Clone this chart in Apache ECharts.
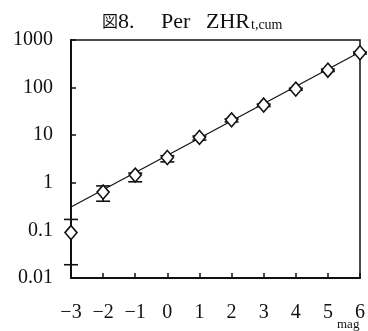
<!DOCTYPE html>
<html>
<head>
<meta charset="utf-8">
<script src="https://cdn.jsdelivr.net/npm/echarts@6/dist/echarts.min.js"></script>
<style>
  html, body { margin: 0; padding: 0; background: #fff; }
  #chart { width: 368px; height: 331px; }
</style>
</head>
<body>
<div id="chart"></div>
<script>
// Cumulative ZHR per magnitude class
const mags = [-3, -2, -1, 0, 1, 2, 3, 4, 5, 6];
const zhr = [0.09, 0.64, 1.45, 3.4, 9.0, 21, 43, 93, 232, 540];
const errLow = [0.019, 0.41, 1.05, 2.75, 7.9, 19, 40, 88, 218, 510];
const errHigh = [0.17, 0.86, 1.6, 3.7, 9.6, 22, 45, 97, 245, 560];

// Power-law fit line endpoints
const fitMags = [-3, 6];
const fitValues = [0.31, 560];

const xTickLabels = ['−3', '−2', '−1', '0', '1', '2', '3', '4', '5', '6'];
const yTickValues = [0.01, 0.1, 1, 10, 100, 1000];
const yTickLabels = ['0.01', '0.1', '1', '10', '100', '1000'];

const serif = '"Liberation Serif", "Noto Sans CJK JP", serif';
const cjk = '"Noto Sans CJK JP", serif';

const chart = echarts.init(document.getElementById('chart'), null, { renderer: 'canvas' });

const pointData = mags.map((m, i) => [m, zhr[i]]);
const errData = mags.map((m, i) => [m, errLow[i], errHigh[i]]);
const fitData = fitMags.map((m, i) => [m, fitValues[i]]);

// Title pieces: figure number, quantity name and its subscript
const titleText = (text, x, y, family, size) => ({
  type: 'text', x, y, silent: true,
  style: { text, fontFamily: family, fontSize: size, fill: '#111', verticalAlign: 'middle' }
});

chart.setOption({
  animation: false,
  backgroundColor: '#fff',
  grid: {
    left: 71, right: 3, top: 40, bottom: 53,
    show: true, borderColor: '#111', borderWidth: 1.5, backgroundColor: 'transparent'
  },
  xAxis: {
    type: 'value', min: -3, max: 6, interval: 1,
    axisLine: { show: true, onZero: false, lineStyle: { color: '#111', width: 2 } },
    axisTick: { show: true, inside: true, length: 5, lineStyle: { color: '#111', width: 1.5 } },
    splitLine: { show: false },
    axisLabel: {
      margin: 25, fontFamily: serif, fontSize: 20, color: '#111',
      formatter: v => xTickLabels[mags.indexOf(Math.round(v))] ?? ''
    }
  },
  yAxis: {
    type: 'log', logBase: 10, min: 0.01, max: 1000,
    axisLine: { show: true, onZero: false, lineStyle: { color: '#111', width: 2 } },
    axisTick: { show: true, inside: true, length: 5, lineStyle: { color: '#111', width: 1.5 } },
    splitLine: { show: false },
    axisLabel: {
      margin: 18, fontFamily: serif, fontSize: 20, color: '#111',
      formatter: v => {
        const i = yTickValues.findIndex(t => Math.abs(Math.log10(t) - Math.log10(v)) < 1e-6);
        return i >= 0 ? yTickLabels[i] : '';
      }
    }
  },
  graphic: [
    titleText('図', 102, 21, cjk, 16),
    titleText('8.', 118, 22, serif, 22),
    titleText('Per', 161, 22, serif, 22),
    titleText('ZHR', 206, 22, serif, 22),
    titleText('t,cum', 251, 25, serif, 14),
    {
      type: 'text', left: 337, top: 318,
      style: { text: 'mag', fontFamily: serif, fontSize: 13, fill: '#111' }
    }
  ],
  series: [
    {
      type: 'line', data: fitData, symbol: 'none', z: 2,
      lineStyle: { color: '#111', width: 1.2 }
    },
    {
      type: 'custom', data: errData, z: 3, clip: false,
      encode: { x: 0, y: [1, 2] },
      renderItem: (params, api) => {
        const x = api.value(0);
        const lo = api.coord([x, api.value(1)]);
        const hi = api.coord([x, api.value(2)]);
        const hw = 7;
        const st = { stroke: '#111', lineWidth: 1.6 };
        return {
          type: 'group',
          children: [
            { type: 'line', shape: { x1: lo[0], y1: lo[1], x2: hi[0], y2: hi[1] }, style: st },
            { type: 'line', shape: { x1: lo[0] - hw, y1: lo[1], x2: lo[0] + hw, y2: lo[1] }, style: st },
            { type: 'line', shape: { x1: hi[0] - hw, y1: hi[1], x2: hi[0] + hw, y2: hi[1] }, style: st }
          ]
        };
      }
    },
    {
      type: 'scatter', data: pointData, z: 4, clip: false,
      symbol: 'diamond', symbolSize: [12, 14],
      itemStyle: { color: '#fff', opacity: 1, borderColor: '#111', borderWidth: 1.6 }
    }
  ]
});
</script>
</body>
</html>
